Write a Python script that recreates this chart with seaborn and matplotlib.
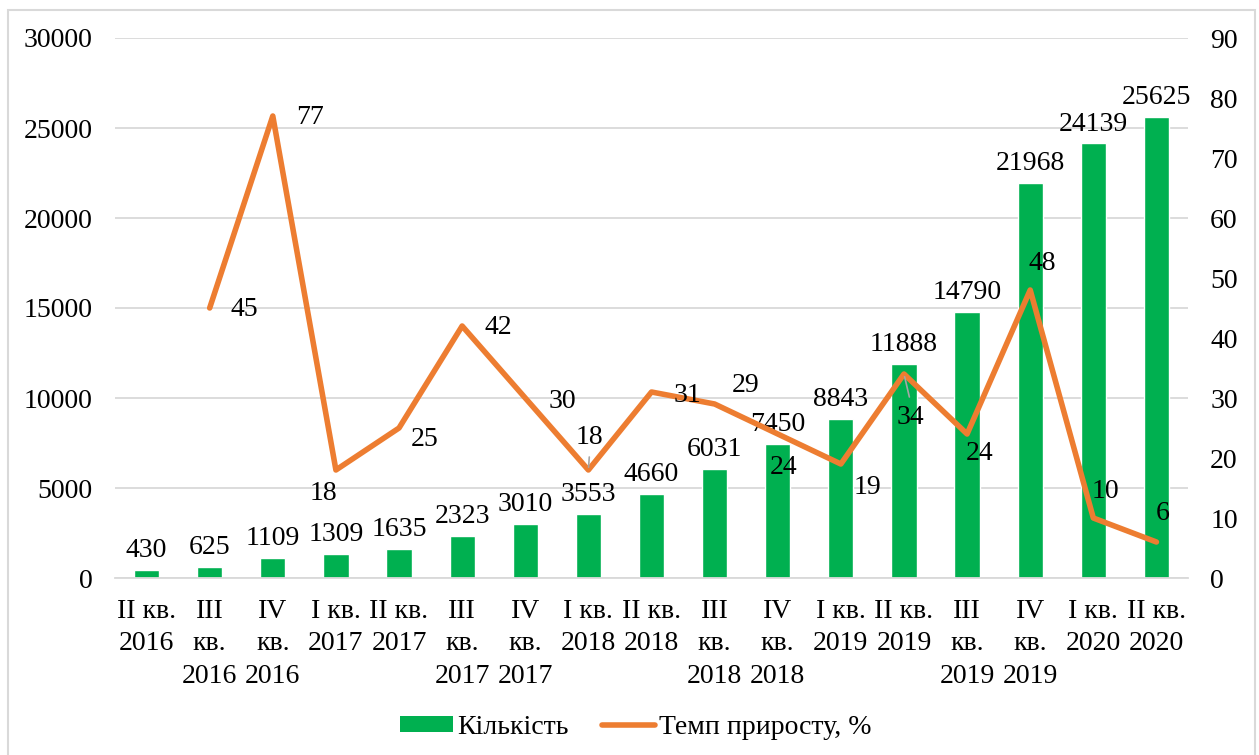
import numpy as np
import pandas as pd
import seaborn as sns
import matplotlib.pyplot as plt
from matplotlib.patches import Rectangle, Patch
from matplotlib.lines import Line2D

# data #
quarters = ['II кв.\n2016', 'III\nкв.\n2016', 'IV\nкв.\n2016', 'I кв.\n2017', 'II кв.\n2017',
            'III\nкв.\n2017', 'IV\nкв.\n2017', 'I кв.\n2018', 'II кв.\n2018', 'III\nкв.\n2018',
            'IV\nкв.\n2018', 'I кв.\n2019', 'II кв.\n2019', 'III\nкв.\n2019', 'IV\nкв.\n2019',
            'I кв.\n2020', 'II кв.\n2020']
count = [430, 625, 1109, 1309, 1635, 2323, 3010, 3553, 4660, 6031, 7450, 8843,
         11888, 14790, 21968, 24139, 25625]
# growth rate starts from the second quarter
growth = [45, 77, 18, 25, 42, 30, 18, 31, 29, 24, 19, 34, 24, 48, 10, 6]

# label offsets for the line (pixels), placed like in the original
lab_off = [(35, -2), (37, -1), (-12, -23), (26, -12), (36, -2), (37, -3), (1, 33), (36, -3),
           (31, 19), (6, -33), (27, -24), (6, -43), (12, -19), (12, 26), (12, 26), (6, 28)]
leaders = {6, 11}  # points with a little grey leader line

green = '#00B050'
orange = '#ED7D31'
fs = 20

sns.set_style('white')
plt.rcParams['font.family'] = ['Liberation Serif', 'DejaVu Serif']
plt.rcParams['text.color'] = 'black'
plt.rcParams['xtick.color'] = 'black'
plt.rcParams['ytick.color'] = 'black'

fig = plt.figure(figsize=(12.59, 7.55), dpi=100)
ax = fig.add_axes([115 / 1259, 177 / 755, (1188 - 115) / 1259, 540 / 755])

df = pd.DataFrame({'quarter': quarters, 'count': count})
sns.barplot(data=df, x='quarter', y='count', color=green, width=0.4, ax=ax, saturation=1)
ax.bar_label(ax.containers[0], labels=[str(v) for v in count], padding=5, fontsize=fs)

ax.set_ylim(0, 30000)
ax.set_yticks(np.arange(0, 30001, 5000))
ax.set_xlim(-0.5, len(quarters) - 0.5)
ax.set_xlabel('')
ax.set_ylabel('')
ax.grid(axis='y', color='#d9d9d9', lw=1.3)
ax.set_axisbelow(True)
for s in ['top', 'right', 'left']:
    ax.spines[s].set_visible(False)
ax.spines['bottom'].set_color('#d9d9d9')
ax.spines['bottom'].set_linewidth(1.3)
ax.tick_params(axis='y', length=0, pad=16, labelsize=fs)
ax.tick_params(axis='x', length=0, pad=15, labelsize=fs)
for t in ax.get_xticklabels():
    t.set_verticalalignment('top')
    t.set_linespacing(1.4)

ax2 = ax.twinx()
pos = np.arange(len(quarters))
sns.lineplot(x=pos[1:], y=growth, color=orange, lw=4, ax=ax2)
ax2.set_ylim(0, 90)
ax2.set_yticks(np.arange(0, 91, 10))
ax2.tick_params(axis='y', length=0, pad=16, labelsize=fs)
for s in ['top', 'right', 'left', 'bottom']:
    ax2.spines[s].set_visible(False)
ax2.grid(False)

for k, (xv, yv) in enumerate(zip(pos[1:], growth)):
    dx, dy = lab_off[k]
    ax2.annotate(str(yv), (xv, yv), xytext=(dx, dy), textcoords='offset pixels',
                 ha='center', va='center', fontsize=fs)
    if k in leaders:
        sgn = 1 if dy > 0 else -1
        ax2.annotate('', (xv, yv), xytext=(dx * 0.9, dy - sgn * 20), textcoords='offset pixels',
                     arrowprops=dict(arrowstyle='-', color='#a6a6a6', lw=1.2,
                                     shrinkA=0, shrinkB=2))

handles = [Patch(facecolor=green, edgecolor='none', label='Кількість'),
           Line2D([0], [0], color=orange, lw=4, solid_capstyle='round', label='Темп приросту, %')]
fig.legend(handles=handles, loc='center', bbox_to_anchor=(0.505, 0.037), ncol=2, frameon=False,
           fontsize=fs, handlelength=1.9, handleheight=0.5, handletextpad=0.15, columnspacing=1.2)

# light frame around the whole chart
fig.patches.append(Rectangle((8 / 1259, -0.01), (1255 - 8) / 1259, (755 - 10) / 755 + 0.01,
                             transform=fig.transFigure, fill=False, edgecolor='#d9d9d9', lw=1.5))

plt.savefig('out.png', dpi=100)
